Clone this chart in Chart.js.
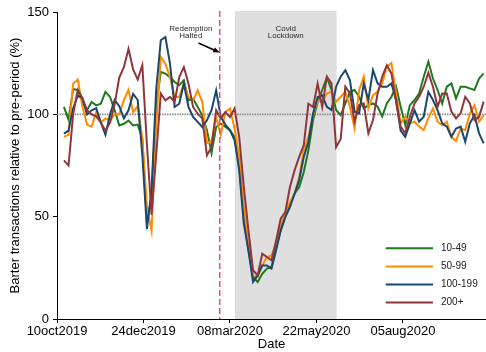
<!DOCTYPE html>
<html>
<head>
<meta charset="utf-8">
<script src="https://cdn.jsdelivr.net/npm/chart.js@4.4.1/dist/chart.umd.min.js"></script>
<style>
  html, body { margin: 0; padding: 0; background: #fff; }
  #wrap { width: 486px; height: 352px; }
</style>
</head>
<body>
<div id="wrap"><canvas id="chart" width="486" height="352"></canvas></div>
<script>
// days since 10oct2019
const days = [6,10,14,18,22,26,30,34,38,42,46,50,54,58,62,66,70,74,78,82,86,90,94,98,102,106,110,114,118,122,126,130,134,138,142,146,150,154,158,162,166,170,174,178,182,186,190,194,198,202,206,210,214,218,222,226,230,234,238,242,246,250,254,258,262,266,270,274,278,282,286,290,294,298,302,306,310,314,318,322,326,330,334,338,342,346,350,354,358,362,366,370];

const tickDays = [0, 75, 150, 225, 300];
const tickLabels = ["10oct2019", "24dec2019", "08mar2020", "22may2020", "05aug2020"];
const yTicks = [0, 50, 100, 150];

const seriesNames = ["10-49", "50-99", "100-199", "200+"];
const seriesColors = ["#1d7a1d", "#ff8c00", "#1a476f", "#90353b"];

const size10to49 = [103.6,97.4,112.5,111.7,106,102,106,104.4,105.2,111,108.5,102,94.6,95.4,97,94.6,95,88,47,60,104,120.7,119.9,118.2,115.8,114.2,116.6,106.8,107.6,103.6,99.5,92.2,81,93.8,95.4,93.8,92.2,88.9,74.3,49.8,33.6,20.5,18.1,22.1,24.6,25.4,35.2,43.3,50.7,56.4,61.2,64.5,71.8,82.4,97.1,106,112,118,112,102.1,99.6,105.3,111,111.9,108.6,102.9,104.5,105.3,103.7,99,105.3,108.6,113.5,103.7,94.7,104.5,107,110.2,118.4,125.7,117.5,111.9,105.3,113.5,115.1,107.8,113.5,113.5,112.7,111.9,117.5,120];

const size50to99 = [89,90,115,117,104,95,94,101,96,98,97,100,100,107,112,101,104,88,55,43,95,128,124.7,118.2,108.5,108.5,115,108.5,106.8,111.7,106,86,87,98.7,90,101,102.8,93,79.2,54.7,36.8,21.3,20.5,26.2,30.3,31.1,36.8,45,52.3,57.2,61.2,69.4,82.4,88.9,99.5,106.8,106,110.2,111,106.2,108.6,111,103.7,93.1,111.9,118.4,102.9,109.4,111,115.1,123.3,125,110.2,95.6,98.8,95.6,96.4,94,92.3,98,102.9,96.4,94.7,96.4,89,87,93.1,92.3,100.5,104.5,96.4,99.6];

const size100to199 = [90.6,92,103,109,108,100,102,103,96,90,100,107,104,98,102,110,107,80,44,63,112,136.2,137.8,124.7,103.6,105.2,115,103.6,98.7,96.3,93.8,97.1,102,111.7,98.7,95,92.2,87.3,72.6,46.6,33.6,18.1,21.3,26.2,26.2,24.6,33.6,43.3,49.8,54.7,61.2,67.8,79.2,86.5,100.3,108.5,109.3,103.7,102.1,113.5,118.4,121.6,116.7,101.3,100.5,115.1,107,121.6,115.1,113.5,113.5,115.1,107,92,89,95.6,102.1,96.4,98.8,111,107,102.1,95.6,94,89,93.1,94,86.6,95.6,99.6,90.7,85.8];

const size200plus = [77.5,75,100,112,108,102,100,99,96,92,96,105,118,123,132,122,117,124,85,51,80,110.1,106.8,108.5,106,118.2,123.1,115,103.6,100.3,97.9,80,84,102,97.9,101.1,98.7,102.8,88.9,64.5,43.3,23.8,21.3,31.9,30.3,28.7,38.4,49,52.3,64.5,72.6,79.2,84.9,105.2,103.6,115,103.6,118.4,115.1,84,88,113.5,110.2,96.4,104.5,105.3,90.7,97.2,110.2,118.4,124,120,106.2,94,90.7,98.8,105.3,108.6,113.5,120.3,113.5,103.7,110.2,110.2,101.3,98,100.5,108.6,105.3,97.2,98.8,106.2];

// event markers, in days since 10oct2019
const redemptionDay = 141.1;
const lockdownStart = 154.3;
const lockdownEnd = 242.5;

const allSeries = [size10to49, size50to99, size100to199, size200plus];
const FONT = "'Liberation Sans', Arial, sans-serif";

const datasets = allSeries.map((vals, i) => ({
    label: seriesNames[i],
    data: days.map((d, j) => ({ x: d, y: vals[j] })),
    borderColor: seriesColors[i],
    backgroundColor: seriesColors[i],
    borderWidth: 2,
    pointRadius: 0,
    tension: 0,
    fill: false,
    order: 4 - i
}));

const extras = {
    id: "extras",
    beforeDatasetsDraw(chart) {
        const { ctx, chartArea: a, scales: { x, y } } = chart;
        ctx.save();
        // lockdown shading
        ctx.fillStyle = "#dfdfdf";
        const x0 = x.getPixelForValue(lockdownStart), x1 = x.getPixelForValue(lockdownEnd);
        const yt = y.getPixelForValue(150.5), yb = y.getPixelForValue(0);
        ctx.fillRect(x0, yt, x1 - x0, yb - yt);
        ctx.fillStyle = "#2a2a2a";
        ctx.font = "8px " + FONT;
        ctx.textAlign = "center";
        ctx.textBaseline = "middle";
        const cx = (x0 + x1) / 2;
        ctx.fillText("Covid", cx, 28.5);
        ctx.fillText("Lockdown", cx, 36);
        // reference line at 100
        const y100 = y.getPixelForValue(100);
        ctx.strokeStyle = "#8c8c8c";
        ctx.lineWidth = 1.6;
        ctx.setLineDash([1.5, 1]);
        ctx.beginPath();
        ctx.moveTo(a.left, y100);
        ctx.lineTo(a.right, y100);
        ctx.stroke();
        ctx.restore();
    },
    afterDatasetsDraw(chart) {
        const { ctx, scales: { x, y } } = chart;
        ctx.save();
        // redemption halted line
        const xr = x.getPixelForValue(redemptionDay);
        ctx.strokeStyle = "#e0508a";
        ctx.lineWidth = 1.5;
        ctx.setLineDash([6, 3]);
        ctx.beginPath();
        ctx.moveTo(xr, y.getPixelForValue(150.5));
        ctx.lineTo(xr, y.getPixelForValue(0));
        ctx.stroke();
        ctx.setLineDash([]);
        // label and arrow
        ctx.fillStyle = "#2a2a2a";
        ctx.font = "8px " + FONT;
        ctx.textAlign = "center";
        ctx.textBaseline = "middle";
        const tx = x.getPixelForValue(116);
        ctx.fillText("Redemption", tx, 28.5);
        ctx.fillText("Halted", tx, 36);
        const ax0 = x.getPixelForValue(122.7), ay0 = 43;
        const ax1 = xr, ay1 = 52.5;
        ctx.strokeStyle = "#000";
        ctx.lineWidth = 1.5;
        ctx.beginPath();
        ctx.moveTo(ax0, ay0);
        ctx.lineTo(ax1 - 4, ay1 - 1.7);
        ctx.stroke();
        const ang = Math.atan2(ay1 - ay0, ax1 - ax0);
        ctx.fillStyle = "#000";
        ctx.beginPath();
        ctx.moveTo(ax1, ay1);
        ctx.lineTo(ax1 - 7 * Math.cos(ang - 0.4), ay1 - 7 * Math.sin(ang - 0.4));
        ctx.lineTo(ax1 - 7 * Math.cos(ang + 0.4), ay1 - 7 * Math.sin(ang + 0.4));
        ctx.closePath();
        ctx.fill();
        ctx.restore();
    },
    afterDraw(chart) {
        const { ctx } = chart;
        ctx.save();
        ctx.font = "10px " + FONT;
        ctx.textAlign = "left";
        ctx.textBaseline = "middle";
        seriesNames.forEach((name, i) => {
            const ly = 248.3 + i * 18.1;
            ctx.strokeStyle = seriesColors[i];
            ctx.lineWidth = 2;
            ctx.beginPath();
            ctx.moveTo(385.7, ly);
            ctx.lineTo(433, ly);
            ctx.stroke();
            ctx.fillStyle = "#222";
            ctx.fillText(name, 441, ly);
        });
        ctx.restore();
    }
};

new Chart(document.getElementById("chart"), {
    type: "line",
    data: { datasets: datasets },
    options: {
        responsive: false,
        animation: false,
        events: [],
        layout: { padding: { top: 12, right: 0, bottom: 0, left: 0 } },
        plugins: { legend: { display: false }, tooltip: { enabled: false } },
        scales: {
            x: {
                type: "linear",
                min: 0,
                max: 372,
                afterBuildTicks: s => { s.ticks = tickDays.map(v => ({ value: v })); },
                afterFit: s => { s.height = 33; },
                ticks: {
                    callback: (v, i) => tickLabels[i],
                    color: "#000",
                    font: { family: FONT, size: 13 },
                    maxRotation: 0,
                    autoSkip: false,
                    padding: 1
                },
                grid: { drawOnChartArea: false, drawTicks: true, tickLength: 4, tickColor: "#000", tickWidth: 1 },
                border: { display: true, color: "#000", width: 1 },
                title: { display: true, text: "Date", color: "#000", font: { family: FONT, size: 13 }, padding: { top: 0, bottom: 0 } }
            },
            y: {
                min: 0,
                max: 150,
                afterBuildTicks: s => { s.ticks = yTicks.map(v => ({ value: v })); },
                afterFit: s => { s.width = 57; },
                ticks: {
                    color: "#000",
                    font: { family: FONT, size: 13 },
                    padding: 4
                },
                grid: { drawOnChartArea: false, drawTicks: true, tickLength: 4, tickColor: "#000", tickWidth: 1 },
                border: { display: true, color: "#000", width: 1 },
                title: { display: true, text: "Barter transactions relative to pre-period (%)", color: "#000", font: { family: FONT, size: 13 }, padding: { top: 8, bottom: 0 } }
            }
        }
    },
    plugins: [extras]
});
</script>
</body>
</html>
